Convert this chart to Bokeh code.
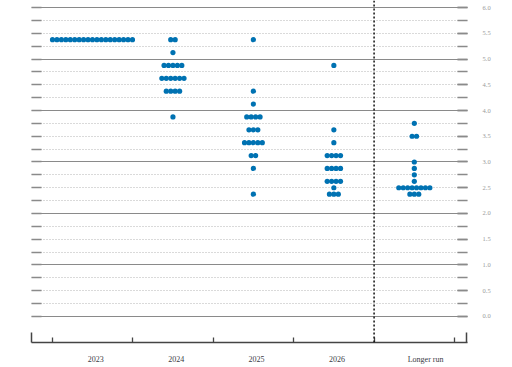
from bokeh.plotting import figure
from bokeh.models import FixedTicker, LinearAxis, Span, Range1d
from bokeh.embed import file_html
from bokeh.resources import INLINE

# ---- data ----
categories = ["2023", "2024", "2025", "2026", "Longer run"]
rate_2023 = [5.375]
n_2023 = [19]
rate_2024 = [5.375, 5.125, 4.875, 4.625, 4.375, 3.875]
n_2024 = [2, 1, 5, 6, 4, 1]
rate_2025 = [5.375, 4.375, 4.125, 3.875, 3.625, 3.375, 3.125, 2.875, 2.375]
n_2025 = [1, 1, 1, 4, 3, 5, 2, 1, 1]
rate_2026 = [4.875, 3.625, 3.375, 3.125, 2.875, 2.625, 2.5, 2.375]
n_2026 = [1, 1, 1, 4, 4, 4, 1, 3]
rate_lr = [3.75, 3.5, 3.0, 2.875, 2.75, 2.625, 2.5, 2.375]
n_lr = [1, 2, 1, 1, 1, 1, 8, 3]
ytick_values = [0.0, 0.5, 1.0, 1.5, 2.0, 2.5, 3.0, 3.5, 4.0, 4.5, 5.0, 5.5, 6.0]
ytick_labels = ["0.0", "0.5", "1.0", "1.5", "2.0", "2.5", "3.0", "3.5", "4.0", "4.5", "5.0", "5.5", "6.0"]

series = [(rate_2023, n_2023), (rate_2024, n_2024), (rate_2025, n_2025),
          (rate_2026, n_2026), (rate_lr, n_lr)]

# ---- layout ----
X0, X1 = -0.758, 4.661
Y0, Y1 = -0.505, 6.136
DOT_STEP = 0.0552
quarters = [i * 0.25 for i in range(0, 25)]
integers = [float(i) for i in range(0, 7)]
non_int = [q for q in quarters if q not in integers]

xs, ys = [], []
for ci, (rates, counts) in enumerate(series):
    for r, n in zip(rates, counts):
        for k in range(n):
            xs.append(ci + (k - (n - 1) / 2) * DOT_STEP)
            ys.append(r)

p = figure(width=512, height=367, output_backend="svg", toolbar_location=None,
           x_range=Range1d(X0, X1), y_range=Range1d(Y0, Y1),
           min_border_left=31, min_border_right=45, min_border_top=0, min_border_bottom=25)
p.outline_line_color = None
p.background_fill_color = "white"
p.border_fill_color = "white"

# grid
p.xgrid.visible = False
p.ygrid.ticker = FixedTicker(ticks=integers, minor_ticks=non_int)
p.ygrid.grid_line_color = "#8a8a8a"
p.ygrid.grid_line_width = 1.2
p.ygrid.minor_grid_line_color = "#b5b5b5"
p.ygrid.minor_grid_line_dash = "1 2"
p.ygrid.minor_grid_line_width = 1.2

# left axis: tick dashes only
la = p.yaxis[0]
la.ticker = FixedTicker(ticks=quarters)
la.axis_line_color = None
la.major_tick_in = 10
la.major_tick_out = 0
la.major_tick_line_color = "#8a8a8a"
la.major_tick_line_width = 1.5
la.minor_tick_line_color = None
la.major_label_text_color = None
la.major_label_standoff = 0

# right axis with labels
ra = LinearAxis(ticker=FixedTicker(ticks=ytick_values, minor_ticks=quarters))
ra.major_label_overrides = {v: l for v, l in zip(ytick_values, ytick_labels)}
ra.axis_line_color = None
ra.major_tick_in = 10
ra.major_tick_out = 0
ra.minor_tick_in = 10
ra.minor_tick_out = 0
ra.major_tick_line_color = "#8a8a8a"
ra.minor_tick_line_color = "#8a8a8a"
ra.major_tick_line_width = 1.5
ra.minor_tick_line_width = 1.5
ra.major_label_standoff = 15
ra.major_label_text_font = "Liberation Serif"
ra.major_label_text_font_size = "6.5px"
ra.major_label_text_color = "#9a9a9a"
p.add_layout(ra, "right")

# bottom axis: baseline and ticks
xa = p.xaxis[0]
xa.ticker = FixedTicker(ticks=[-0.5, 0.5, 1.5, 2.5, 3.5, 4.5], minor_ticks=[X0 + 0.004, X1 - 0.012])
xa.axis_line_color = "#444444"
xa.axis_line_width = 1.3
xa.major_tick_in = 5
xa.major_tick_out = 0
xa.minor_tick_in = 10
xa.minor_tick_out = 0
xa.major_tick_line_color = "#444444"
xa.minor_tick_line_color = "#444444"
xa.major_tick_line_width = 1.3
xa.minor_tick_line_width = 1.5
xa.major_label_text_color = None
xa.major_label_standoff = 0

# second bottom axis: category labels
label_pos = [i + (0.14 if c == "Longer run" else 0.04) for i, c in enumerate(categories)]
ca = LinearAxis(ticker=FixedTicker(ticks=label_pos))
ca.major_label_overrides = {v: c for v, c in zip(label_pos, categories)}
ca.axis_line_color = None
ca.major_tick_line_color = None
ca.minor_tick_line_color = None
ca.major_tick_out = 0
ca.major_tick_in = 0
ca.major_label_standoff = 12
ca.major_label_text_font = "Liberation Serif"
ca.major_label_text_font_size = "8px"
ca.major_label_text_color = "#3a3a44"
p.add_layout(ca, "below")

# dashed separator
p.add_layout(Span(location=3.5, dimension="height", line_color="#111111",
                  line_dash="2 2", line_width=1.5))

# dots
p.scatter(xs, ys, size=5.2, marker="circle", fill_color="#0072b2", line_color=None)

open("out.html", "w").write(file_html(p, INLINE))
